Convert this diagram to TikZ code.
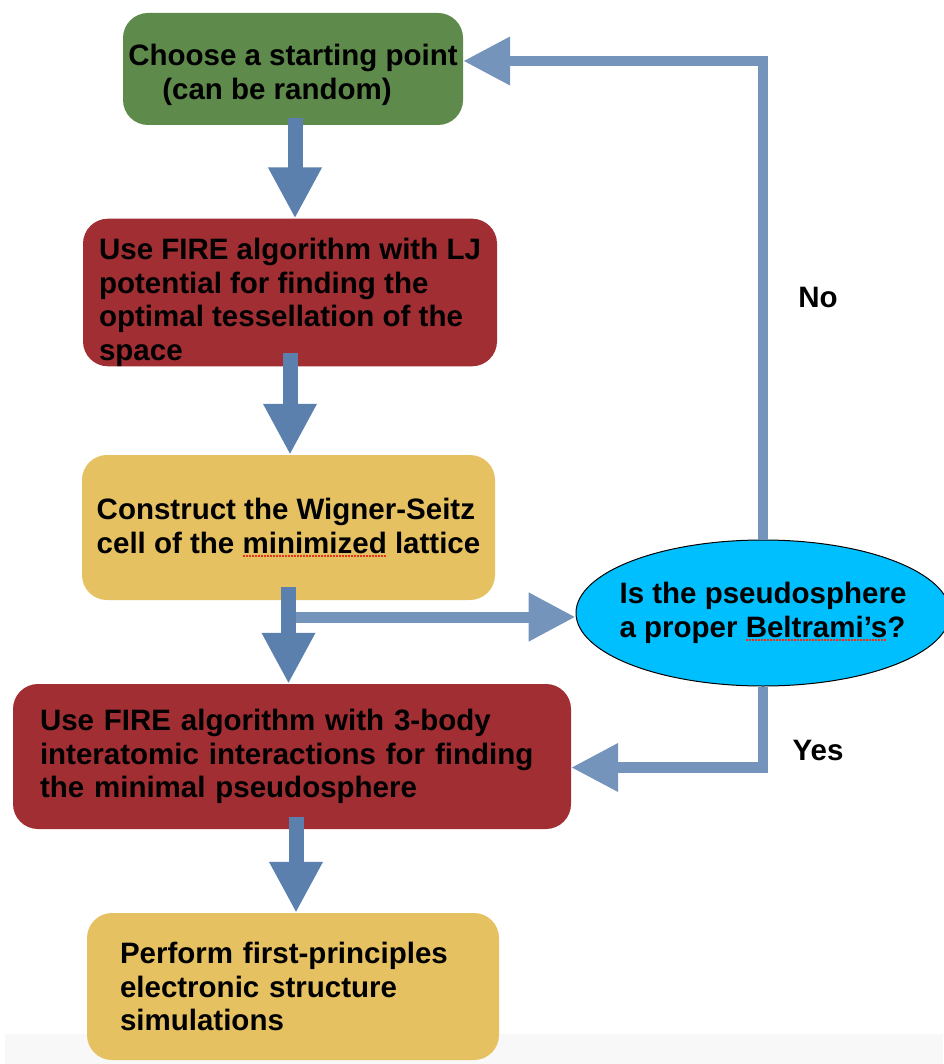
\documentclass[tikz,border=0pt]{standalone}
\usepackage{fontspec}
\setmainfont{Liberation Sans}
\usepackage{xcolor}
\usepackage{tikz}
\usetikzlibrary{arrows.meta,shapes.geometric}
\definecolor{stepgreen}{HTML}{5E8A4B}
\definecolor{stepred}{HTML}{A02E33}
\definecolor{stepyellow}{HTML}{E5C162}
\definecolor{askcyan}{HTML}{00BFFF}
\definecolor{flowdark}{HTML}{5B80AE}
\definecolor{flowlight}{HTML}{7594BC}
\definecolor{spellred}{HTML}{E8341C}
\definecolor{band}{HTML}{F8F8F8}
\newcommand\flowfont{\fontsize{29.5pt}{33.5pt}\selectfont\bfseries}
\newcommand\spellmark[1]{\setbox0\hbox{#1}\rlap{\color{spellred}\raisebox{-3.5pt}{\hbox to \wd0{\leaders\hbox to 3pt{\hss\rule{1.6pt}{1.6pt}\hss}\hfill}}}\box0}
\tikzset{
  box/.style={rounded corners=25pt, align=left, inner sep=0pt, font=\flowfont, text=black},
  ask/.style={ellipse, draw=black, line width=1pt, fill=askcyan, align=left, inner xsep=-12pt, inner ysep=0pt, font=\flowfont},
  flow/.style={draw=flowdark, line width=15pt, -{Triangle[width=50pt,length=51pt]}},
  back/.style={draw=flowlight, line width=10.5pt, -{Triangle[width=46pt,length=47pt]}},
  lab/.style={font=\flowfont, text=black},
}
\begin{document}
\begin{tikzpicture}[x=1pt,y=-1pt]
  \useasboundingbox (0,0) rectangle (943,1064);
  \fill[band] (5,1034) rectangle (943,1064);

  \node[box, fill=stepgreen, minimum width=340pt, minimum height=112pt] (start) at (293,69)
    {\rule{0pt}{33pt}Choose a starting point\\ \hspace*{34pt}(can be random)};
  \node[box, fill=stepred, minimum width=414pt, minimum height=147pt] (fire) at (290,292.5)
    {\rule{0pt}{41pt}Use FIRE algorithm with LJ\\ potential for finding the\\ optimal tessellation of the\\ space};
  \node[box, fill=stepyellow, minimum width=413pt, minimum height=145pt] (cell) at (288.5,527.5)
    {Construct the Wigner-Seitz\\ cell of the \spellmark{minimized}\ lattice};
  \node[box, fill=stepred, minimum width=558pt, minimum height=145pt, text width=504pt] (relax) at (292,756.5)
    {Use FIRE algorithm with 3-body\\ interatomic interactions for finding\\ the minimal pseudosphere};
  \node[box, fill=stepyellow, minimum width=412pt, minimum height=147pt, text width=346pt] (dft) at (293,986.5)
    {Perform first-principles\\ electronic structure\\ simulations};
  \node[ask, minimum width=374pt, minimum height=146pt] (check) at (763,613)
    {Is the pseudosphere\\ a proper \spellmark{Beltrami's}?};

  \coordinate (split) at (289,617);

  % main chain
  \draw[flow] ([xshift=2pt,yshift=7pt]start.south) -- ([xshift=2pt]start.south |- fire.north);
  \draw[flow] ([yshift=14pt]fire.south) -- (fire.south |- cell.north);
  \draw[back, line width=11pt] (split) -- (split -| check.west); % test
  \draw[flow] ([yshift=13pt]cell.south) -- (cell.south |- relax.north);
  \draw[flow] ([yshift=12pt,xshift=4pt]relax.south) -- ([xshift=4pt]relax.south |- dft.north);

  % answers
  \draw[back] (check.north) |- ([yshift=8pt]start.east);
  \draw[back] (check.south) |- ([yshift=-11pt]relax.east);

  \node[lab] (no) at (818,297) {No};
  \node[lab] (yes) at (818,750) {Yes};
\end{tikzpicture}
\end{document}
